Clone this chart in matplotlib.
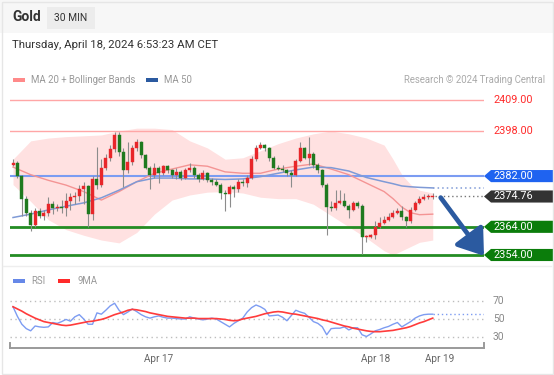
import matplotlib

matplotlib.use("Agg")
import matplotlib.pyplot as plt
from matplotlib import transforms
from matplotlib.patches import FancyArrowPatch, Polygon, Rectangle

plt.rcParams["font.family"] = ["Roboto", "DejaVu Sans"]

# --- data (30 min gold candles) ----------------------------------------------
opens = [2386.0, 2386.5, 2382.0, 2374.0, 2369.0, 2364.5, 2369.5, 2368.0, 2369.0, 2372.0,
         2370.5, 2371.0, 2370.5, 2373.0, 2374.5, 2374.8, 2377.5, 2378.5, 2368.5, 2381.0,
         2379.0, 2385.0, 2388.5, 2391.5, 2396.5, 2390.5, 2384.0, 2387.0, 2392.0, 2394.0,
         2389.5, 2385.0, 2382.5, 2385.0, 2383.0, 2385.5, 2384.0, 2382.5, 2383.5, 2381.5,
         2384.0, 2385.0, 2382.5, 2381.0, 2383.0, 2380.5, 2380.0, 2379.0, 2376.0, 2375.5,
         2378.0, 2377.5, 2380.0, 2379.5, 2381.5, 2388.0, 2392.0, 2393.0, 2392.0, 2388.5,
         2385.0, 2384.5, 2384.0, 2383.0, 2382.5, 2387.5, 2392.0, 2388.5, 2390.0, 2386.0,
         2384.0, 2379.0, 2371.0, 2370.5, 2372.5, 2373.0, 2371.5, 2370.0, 2372.5, 2371.5,
         2360.5, 2360.5, 2361.0, 2364.0, 2365.5, 2366.5, 2367.5, 2369.0, 2369.5, 2367.5,
         2366.0, 2370.0, 2372.5, 2374.0, 2374.5, 2374.5]
closes = [2386.5, 2382.0, 2374.0, 2369.0, 2364.5, 2369.5, 2368.0, 2369.0, 2372.0, 2370.5,
          2371.0, 2370.5, 2373.0, 2374.5, 2374.8, 2377.5, 2378.5, 2368.5, 2381.0, 2379.0,
          2385.0, 2388.5, 2391.5, 2396.5, 2390.5, 2384.0, 2387.0, 2392.0, 2394.0, 2389.5,
          2385.0, 2382.5, 2385.0, 2383.0, 2385.5, 2384.0, 2382.5, 2383.5, 2381.5, 2384.0,
          2385.0, 2382.5, 2381.0, 2383.0, 2380.5, 2380.0, 2379.0, 2376.0, 2375.5, 2378.0,
          2377.5, 2380.0, 2379.5, 2381.5, 2388.0, 2392.0, 2393.0, 2392.0, 2388.5, 2385.0,
          2384.5, 2384.0, 2383.0, 2382.5, 2387.5, 2392.0, 2388.5, 2390.0, 2386.0, 2384.0,
          2379.0, 2371.0, 2370.5, 2372.5, 2373.0, 2371.5, 2370.0, 2372.5, 2371.5, 2360.5,
          2360.5, 2361.0, 2364.0, 2365.5, 2366.5, 2367.5, 2369.0, 2369.5, 2367.5, 2366.0,
          2370.0, 2372.5, 2374.0, 2374.5, 2374.5, 2374.76]
highs = [2388.0, 2387.5, 2382.5, 2375.0, 2370.0, 2370.5, 2370.5, 2370.0, 2374.5, 2373.0,
         2372.0, 2373.5, 2376.0, 2376.0, 2376.5, 2379.0, 2380.0, 2379.0, 2382.0, 2392.5,
         2388.0, 2390.0, 2393.0, 2397.5, 2397.5, 2392.0, 2394.0, 2393.0, 2395.0, 2394.5,
         2390.0, 2385.5, 2386.5, 2385.5, 2386.0, 2386.0, 2384.5, 2385.0, 2384.0, 2385.0,
         2386.5, 2385.5, 2383.0, 2384.0, 2383.5, 2381.5, 2381.0, 2379.5, 2377.0, 2379.0,
         2379.0, 2381.0, 2381.0, 2382.5, 2389.0, 2393.0, 2394.0, 2393.5, 2392.5, 2389.0,
         2386.0, 2386.0, 2384.5, 2384.0, 2388.0, 2394.0, 2392.5, 2396.0, 2390.5, 2386.5,
         2384.5, 2379.5, 2373.0, 2377.0, 2377.0, 2376.0, 2372.0, 2373.0, 2373.0, 2372.0,
         2361.0, 2361.5, 2366.0, 2367.5, 2368.0, 2369.0, 2370.0, 2370.5, 2371.5, 2368.0,
         2371.0, 2373.0, 2374.8, 2375.5, 2375.5, 2376.0]
lows = [2385.5, 2381.5, 2368.0, 2368.0, 2362.5, 2364.0, 2367.0, 2366.5, 2368.0, 2368.5,
        2369.5, 2369.0, 2368.0, 2370.0, 2372.0, 2373.0, 2372.0, 2364.0, 2366.5, 2377.5,
        2378.0, 2384.0, 2387.5, 2390.5, 2389.0, 2378.0, 2383.0, 2386.0, 2391.0, 2388.5,
        2384.5, 2377.5, 2381.5, 2379.5, 2382.5, 2383.0, 2381.5, 2381.0, 2380.5, 2381.0,
        2383.5, 2381.5, 2380.0, 2380.5, 2380.0, 2379.0, 2378.5, 2374.0, 2369.5, 2371.0,
        2374.5, 2376.5, 2378.5, 2378.0, 2381.0, 2387.5, 2391.5, 2391.0, 2387.5, 2384.5,
        2384.0, 2383.5, 2382.0, 2378.0, 2382.0, 2387.0, 2388.0, 2386.0, 2385.0, 2383.0,
        2378.0, 2361.0, 2369.5, 2370.0, 2372.0, 2371.0, 2367.0, 2369.5, 2370.5, 2354.3,
        2358.5, 2360.0, 2359.5, 2363.5, 2365.0, 2366.0, 2367.0, 2368.5, 2366.5, 2364.0,
        2365.5, 2369.5, 2372.0, 2373.5, 2373.8, 2374.0]

# indicators, sampled every few candles
band_idx = [0, 4, 8, 12, 16, 20, 24, 28, 32, 36, 40, 44, 48, 52, 56, 60, 64, 68, 72,
            76, 80, 84, 86, 88, 90, 92, 95]
bb_upper = [2388.0, 2394.5, 2395.5, 2396.0, 2396.3, 2396.6, 2398.0, 2399.0, 2399.0, 2398.5,
            2394.5, 2392.0, 2388.0, 2388.5, 2391.0, 2393.5, 2395.5, 2397.0, 2398.0, 2397.0,
            2395.5, 2393.0, 2388.0, 2382.5, 2379.0, 2377.0, 2376.0]
bb_lower = [2379.0, 2373.0, 2366.5, 2363.0, 2361.0, 2359.3, 2358.3, 2362.0, 2368.5, 2373.5,
            2375.3, 2376.3, 2376.5, 2376.0, 2374.5, 2374.0, 2374.0, 2372.0, 2368.0, 2364.0,
            2360.0, 2355.5, 2354.0, 2355.5, 2357.0, 2358.5, 2359.3]
ma20 = [2385.2, 2382.5, 2380.5, 2378.8, 2376.5, 2373.5, 2376.5, 2380.0, 2383.0, 2384.5,
        2386.0, 2385.5, 2383.5, 2383.0, 2383.0, 2384.5, 2385.5, 2386.3, 2384.5, 2382.5,
        2379.5, 2376.5, 2374.0, 2371.0, 2369.0, 2368.3, 2368.5]
ma50 = [2367.3, 2368.5, 2370.0, 2371.3, 2372.5, 2374.3, 2377.0, 2380.0, 2381.3, 2381.3,
        2381.0, 2381.0, 2380.8, 2381.0, 2381.8, 2383.0, 2384.2, 2385.2, 2385.0, 2383.8,
        2381.5, 2380.0, 2379.3, 2378.5, 2378.2, 2378.0, 2377.8]

rsi = [64, 53, 44, 39, 36.5, 42, 41, 40.5, 41, 46, 45, 47, 49.5, 47.5, 52.5, 55, 50, 44, 44, 57,
       55.5, 60, 65, 68, 60, 55, 58, 61.5, 58.5, 55, 52.5, 51, 52.5, 53.5, 52, 51, 51, 50.5, 50, 50,
       52.5, 51, 50, 49, 50, 51, 50, 47, 44, 41, 45, 48, 51, 58, 63, 66, 64, 61, 53.5, 54,
       54.5, 52, 48, 54, 60, 58, 56.5, 52, 47, 45, 41, 32, 39, 39.5, 39.5, 41, 37.5, 40, 40, 32,
       30, 33, 36.5, 38, 40, 41.5, 44, 46, 41, 44, 47, 51, 53.5, 55, 55.5, 55.5]
rsi_ma9 = [64, 61.5, 59, 56, 53.5, 51, 49, 47, 46, 45, 44, 43, 42.5, 43, 44, 45, 46, 47, 47.5, 48.5,
           49.5, 51, 53, 55, 56.5, 58, 60, 61, 60.5, 59.5, 58.5, 57, 56, 55, 54, 53, 52.5, 52, 51.5, 51,
           51, 51, 50.5, 50.5, 50.5, 50.5, 50.5, 50, 49.5, 48.5, 48, 48.5, 50, 51, 52, 53, 54.5, 56, 57, 58,
           58.5, 58, 57, 56, 55.5, 54.5, 53.5, 52.5, 51.5, 50.5, 49, 48, 46.5, 45, 43.5, 42, 41, 39.5, 38.5, 37.5,
           36.5, 35.8, 35.5, 35.5, 36, 36.5, 37, 38, 39, 40, 41.5, 43.5, 45.5, 47, 49, 51]

resistances = [2409.0, 2398.0]
pivot = 2382.0
supports = [2364.0, 2354.0]
last_price = 2374.76
rsi_levels = [70, 50, 30]
date_ticks = [33, 82, 96.6]
date_labels = ["Apr 17", "Apr 18", "Apr 19"]

W, H = 554, 375
RED, GREEN = "#e8262a", "#1f7a1f"
GRID_GREY = "#bdbdbd"


def px_axes(fig, x0, y0, x1, y1):
    """Axes placed by its pixel box (top-left origin)."""
    return fig.add_axes([x0 / W, 1 - y1 / H, (x1 - x0) / W, (y1 - y0) / H])


def tag(ax, fig, price, text, color):
    """Arrow-shaped price tag at the right edge of the panel."""
    tr = transforms.blended_transform_factory(fig.transFigure, ax.transData)
    h = 2.15
    pts = [(484 / W, price), (491 / W, price + h), (1.0, price + h),
           (1.0, price - h), (491 / W, price - h)]
    ax.add_patch(Polygon(pts, closed=True, facecolor=color, edgecolor="none",
                         transform=tr, clip_on=False, zorder=6))
    ax.text(493 / W, price, text, transform=tr, color="white", fontsize=7.8,
            va="center", ha="left", zorder=7, clip_on=False)


fig = plt.figure(figsize=(W / 100, H / 100), dpi=100)
fig.patch.set_facecolor("white")

# header band and frame
fig.add_artist(Rectangle((0, 1 - 33 / H), 1, 33 / H, transform=fig.transFigure,
                         facecolor="#f7f7f7", edgecolor="none"))
fig.add_artist(Rectangle((47 / W, 1 - 29 / H), 48 / W, 22 / H, transform=fig.transFigure,
                         facecolor="#ececec", edgecolor="none"))
fig.add_artist(Rectangle((1.5 / W, 1.5 / H), 551 / W, 372 / H, transform=fig.transFigure,
                         facecolor="none", edgecolor="#e6e6e6", lw=1))
fig.add_artist(plt.Line2D([3 / W, 551 / W], [1 - 266 / H] * 2, color="#eeeeee", lw=1,
                          transform=fig.transFigure))
fig.text(12 / W, 1 - 17 / H, "Gold", fontsize=10, fontweight="bold", color="#333333",
         va="center")
fig.text(71 / W, 1 - 18 / H, "30 MIN", fontsize=7.4, color="#333333", va="center", ha="center")
fig.text(12 / W, 1 - 45 / H, "Thursday, April 18, 2024 6:53:23 AM CET", fontsize=8.2,
         color="#333333", va="center")

# legends
for x0, col in [(13, "#ff8a8a"), (146, "#2b5aa0")]:
    fig.add_artist(Rectangle((x0 / W, 1 - 82 / H), 12 / W, 4 / H, transform=fig.transFigure,
                             facecolor=col, edgecolor="none"))
fig.text(31 / W, 1 - 80 / H, "MA 20 + Bollinger Bands", fontsize=6.9, color="#999999", va="center")
fig.text(164 / W, 1 - 80 / H, "MA 50", fontsize=6.9, color="#999999", va="center")
fig.text(545 / W, 1 - 80 / H, "Research \u00a9 2024 Trading Central", fontsize=6.9,
         color="#aaaaaa", va="center", ha="right")
for x0, col in [(13, "#6688e8"), (58, "#ff2a2a")]:
    fig.add_artist(Rectangle((x0 / W, 1 - 283 / H), 12 / W, 4 / H, transform=fig.transFigure,
                             facecolor=col, edgecolor="none"))
fig.text(31 / W, 1 - 281 / H, "RSI", fontsize=6.9, color="#999999", va="center")
fig.text(77 / W, 1 - 281 / H, "9MA", fontsize=6.9, color="#999999", va="center")

# --- price panel ---------------------------------------------------------------
ax = px_axes(fig, 10, 88, 484, 265)
ax.set_xlim(-0.68, 106.6)
ax.set_ylim(2350.45, 2413.26)
ax.axis("off")

ax.fill_between(band_idx, bb_lower, bb_upper, color="#ffe1e1", lw=0, zorder=1)
ax.plot(band_idx, ma20, color="#f49494", lw=1, zorder=3)
ax.plot(band_idx, ma50, color="#7f9ad6", lw=1.1, zorder=3)

n = len(closes)
xs = list(range(n))
ax.vlines(xs, lows, highs, color="#8c8c8c", lw=0.8, zorder=4)
bottoms = [min(o, c) for o, c in zip(opens, closes)]
heights = [max(abs(c - o), 0.3) for o, c in zip(opens, closes)]
colors = [RED if c >= o else GREEN for o, c in zip(opens, closes)]
ax.bar(xs, heights, bottom=bottoms, width=0.68, color=colors, edgecolor=colors,
       lw=0.3, zorder=5)

for lvl in resistances:
    ax.axhline(lvl, color="#ffa6a6", lw=1, zorder=2)
    tr = transforms.blended_transform_factory(fig.transFigure, ax.transData)
    ax.text(493 / W, lvl, f"{lvl:.2f}", transform=tr, color="#ff2b2b", fontsize=7.8,
            va="center", clip_on=False)
ax.axhline(pivot, color="#7b9cf2", lw=1.5, zorder=2)
tag(ax, fig, pivot, f"{pivot:.2f}", "#1f63f0")
for lvl in supports:
    ax.axhline(lvl, color="#238c23", lw=2, zorder=2)
    tag(ax, fig, lvl, f"{lvl:.2f}", "#0b7d0b")

ax.plot([band_idx[-1], 106.6], [ma50[-1]] * 2, color="#7f9ad6", lw=1.1, ls=(0, (1, 2)))
ax.plot([n - 0.5, 106.6], [last_price] * 2, color="#777777", lw=1, ls=(0, (1, 2)))
tag(ax, fig, last_price, f"{last_price:.2f}", "#333333")

ax.add_patch(FancyArrowPatch((n + 0.8, last_price - 0.4), (n + 10.6, supports[1] - 0.3),
                             arrowstyle="-|>,head_length=5,head_width=3.5", mutation_scale=3.0,
                             color="#2b5aa0", lw=3.4, zorder=8, clip_on=False,
                             shrinkA=0, shrinkB=0))

# --- RSI panel -----------------------------------------------------------------
rx = px_axes(fig, 10, 290, 484, 348)
rx.set_xlim(-0.68, 106.6)
rx.set_ylim(16.86, 83.14)
for s in ["top", "right", "left"]:
    rx.spines[s].set_visible(False)
rx.spines["bottom"].set_color("#9a9a9a")
rx.spines["bottom"].set_linewidth(1.4)
rx.set_yticks([])
rx.set_xticks(date_ticks)
rx.set_xticklabels(date_labels)
rx.tick_params(axis="x", length=0, pad=4, labelsize=7.2, labelcolor="#666666")
for lvl in rsi_levels:
    rx.axhline(lvl, color=GRID_GREY, lw=1, ls=(0, (1, 2.5)))
    tr = transforms.blended_transform_factory(fig.transFigure, rx.transData)
    rx.text(493 / W, lvl, str(lvl), transform=tr, color="#888888", fontsize=7.4, va="center")
rx.plot(xs, rsi, color="#7d9cf2", lw=1)
rx.plot(xs, rsi_ma9, color="#ff3b3b", lw=1.2)
rx.plot([n - 1, 106.6], [rsi[-1]] * 2, color="#7d9cf2", lw=1, ls=(0, (1, 2)))
for xe in [0, 1]:
    rx.plot([xe, xe], [0, 0.09], transform=rx.transAxes, color="#9a9a9a", lw=1.4,
            clip_on=False)

fig.savefig("out.png", dpi=100)
